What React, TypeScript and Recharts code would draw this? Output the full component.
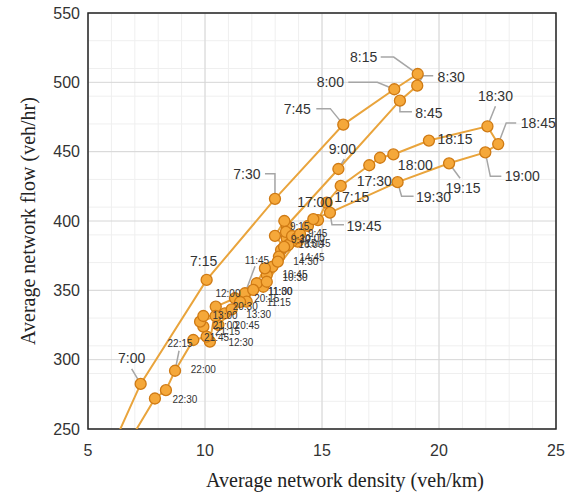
import React from 'react';
import { ScatterChart, Scatter, XAxis, YAxis, CartesianGrid, ReferenceArea } from 'recharts';

// time of day for each observation (15 min steps)
const times = [
  '6:45', '7:00', '7:15', '7:30', '7:45', '8:00', '8:15', '8:30', '8:45', '9:00',
  '9:15', '9:30', '9:45', '10:00', '10:15', '10:30', '10:45', '11:00', '11:15', '11:30',
  '11:45', '12:00', '12:15', '12:30', '12:45', '13:00', '13:15', '13:30', '13:45', '14:00',
  '14:15', '14:30', '14:45', '15:00', '15:15', '15:30', '15:45', '16:00', '16:15', '16:30',
  '16:45', '17:00', '17:15', '17:30', '17:45', '18:00', '18:15', '18:30', '18:45', '19:00',
  '19:15', '19:30', '19:45', '20:00', '20:15', '20:30', '20:45', '21:00', '21:15', '21:30',
  '21:45', '22:00', '22:15', '22:30', '22:45', '23:00',
];

// average network density (veh/km)
const density = [
  5.9, 7.25, 10.07, 12.99, 15.91, 18.09, 19.09, 19.07, 18.33, 15.7,
  13.49, 13.49, 13.96, 13.73, 13.56, 13.25, 13.16, 12.88, 12.64, 12.49,
  11.71, 11.28, 10.46, 10.21, 9.93, 9.79, 10.85, 11.14, 11.78, 12.21,
  12.56, 13.11, 13.38, 12.99, 13.39, 13.46, 13.72, 13.93, 14.06, 14.4,
  14.83, 15.2, 15.8, 17.02, 17.48, 18.05, 19.57, 22.07, 22.53, 21.98,
  20.43, 18.23, 15.34, 14.63, 12.64, 12.06, 11.5, 10.57, 10.45, 9.93,
  10.07, 9.5, 8.72, 8.33, 7.86, 6.9,
];

// average network flow (veh/hr)
const flow = [
  232, 282.5, 357.5, 416, 469.5, 495, 506, 497.6, 486.8, 437.5,
  396.6, 387.5, 385.1, 385.6, 382.7, 379.1, 374.3, 367, 361, 352.6,
  347.9, 344.3, 338.2, 313, 323.8, 327.4, 333.4, 336.3, 341.8, 355.1,
  365.9, 370.7, 381.3, 389.3, 400, 392.1, 389.2, 387.7, 390.6, 396.4,
  400.7, 413.2, 425.3, 440.2, 445.6, 448, 458, 468.3, 455.5, 449.5,
  441.6, 428, 406, 401.4, 356.2, 350.3, 341.6, 325, 331.5, 331.5,
  316.6, 314.2, 292, 278, 272, 245,
];

const xTicks = [5, 10, 15, 20, 25];
const yTicks = [250, 300, 350, 400, 450, 500, 550];
const xMinorTicks = [5, 6, 7, 8, 9, 10, 11, 12, 13, 14, 15, 16, 17, 18, 19, 20, 21, 22, 23, 24, 25];
const yMinorTicks = [
  250, 260, 270, 280, 290, 300, 310, 320, 330, 340, 350, 360, 370, 380, 390, 400,
  410, 420, 430, 440, 450, 460, 470, 480, 490, 500, 510, 520, 530, 540, 550,
];

// label placement relative to the dot (px): text centre, font size, optional leader line
type LabelPos = { dx: number; dy: number; size: number; leader?: number[][] };
const labelLayout: Record<string, LabelPos> = {
  '7:00': { dx: -9, dy: -26, size: 14, leader: [[0, 0], [-9, -15]] },
  '7:15': { dx: -3, dy: -19, size: 14 },
  '7:30': { dx: -28, dy: -25, size: 14, leader: [[0, 0], [0, -25], [-10, -25]] },
  '7:45': { dx: -46, dy: -16, size: 14, leader: [[0, 0], [-13, -16], [-27, -16]] },
  '8:00': { dx: -64, dy: -7, size: 14, leader: [[0, 0], [-17, -7], [-46, -7]] },
  '8:15': { dx: -54, dy: -17, size: 14, leader: [[0, 0], [-24, -17], [-37, -17]] },
  '8:30': { dx: 34, dy: -9, size: 14, leader: [[0, 0], [6, -10], [16, -10]] },
  '8:45': { dx: 29, dy: 12, size: 14, leader: [[0, 0], [0, 11], [12, 11]] },
  '9:00': { dx: 4, dy: -20, size: 14, leader: [[0, 0], [6, -10]] },
  '17:00': { dx: -12, dy: -1, size: 14 },
  '17:15': { dx: 11, dy: 11, size: 14 },
  '17:30': { dx: 5, dy: 16, size: 14 },
  '18:00': { dx: 22, dy: 11, size: 14 },
  '18:15': { dx: 26, dy: -2, size: 14 },
  '18:30': { dx: 8, dy: -30, size: 14, leader: [[0, 0], [8, -20]] },
  '18:45': { dx: 40, dy: -21, size: 14, leader: [[0, 0], [8, -21], [18, -21]] },
  '19:00': { dx: 37, dy: 24, size: 14, leader: [[0, 0], [5, 24], [16, 24]] },
  '19:15': { dx: 14, dy: 25, size: 14, leader: [[0, 0], [11, 15]] },
  '19:30': { dx: 36, dy: 15, size: 14, leader: [[0, 0], [4, 14], [16, 14]] },
  '19:45': { dx: 34, dy: 13, size: 14, leader: [[0, 0], [2, 12], [14, 12]] },
  '22:15': { dx: 5, dy: -27, size: 10, leader: [[0, 0], [4, -20]] },
  '22:30': { dx: 19, dy: 9, size: 10 },
  '22:00': { dx: 10, dy: 30, size: 10 },
  '11:45': { dx: 12, dy: -33, size: 10, leader: [[0, 0], [10, -27]] },
  '12:00': { dx: -7, dy: -5, size: 10 },
  '20:30': { dx: -8, dy: 17, size: 10 },
  '13:30': { dx: 27, dy: 5, size: 10 },
  '20:15': { dx: 0, dy: 17, size: 10 },
  '11:00': { dx: 8, dy: 25, size: 10 },
  '11:30': { dx: 17, dy: 5, size: 10 },
  '11:15': { dx: 12, dy: 27, size: 10 },
  '21:45': { dx: 10, dy: 1, size: 10 },
  '12:30': { dx: 31, dy: 1, size: 10 },
  '21:15': { dx: 12, dy: 16, size: 10 },
  '20:45': { dx: 7, dy: 24, size: 10 },
  '21:00': { dx: 7, dy: 0, size: 10 },
  '13:00': { dx: 25, dy: -6, size: 10 },
  '9:15': { dx: 13, dy: 1, size: 10 },
  '9:45': { dx: 20, dy: -8, size: 10 },
  '9:30': { dx: 14, dy: 1, size: 10 },
  '10:00': { dx: 20, dy: -2, size: 10 },
  '15:45': { dx: 26, dy: 8, size: 10 },
  '16:00': { dx: 14, dy: 6, size: 10 },
  '14:45': { dx: 28, dy: 11, size: 10 },
  '14:30': { dx: 28, dy: 0, size: 10 },
  '10:45': { dx: 16, dy: 18, size: 10 },
  '10:30': { dx: 14, dy: 28, size: 10 },
};

const points = times.map((t, i) => ({ t, x: density[i], y: flow[i] }));

const FONT = 'Arial, "Liberation Sans", sans-serif';
const SERIF = '"Times New Roman", "Liberation Serif", serif';

const LeaderShape = (props: any) => {
  const pos = labelLayout[props.payload?.t];
  if (!pos || !pos.leader) return <g />;
  const pts = pos.leader.map(([a, b]) => `${props.cx + a},${props.cy + b}`).join(' ');
  return <polyline points={pts} fill="none" stroke="#a6a6a6" strokeWidth={1.5} />;
};

const DotShape = (props: any) => (
  <circle cx={props.cx} cy={props.cy} r={5.5} fill="#f5a83a" stroke="#cf7a14" strokeWidth={1.3} />
);

const LabelShape = (props: any) => {
  const pos = labelLayout[props.payload?.t];
  if (!pos) return <g />;
  return (
    <text
      x={props.cx + pos.dx}
      y={props.cy + pos.dy}
      textAnchor="middle"
      dominantBaseline="central"
      fontFamily={FONT}
      fontSize={pos.size}
      fill="#333"
    >
      {props.payload.t}
    </text>
  );
};

const App: React.FC = () => {
  return (
    <div style={{ position: 'absolute', left: 0, top: 0, background: '#fff' }}>
      <ScatterChart width={576} height={494} margin={{ top: 13, right: 20, bottom: 0, left: 0 }}>
        <XAxis xAxisId="minor" type="number" dataKey="x" domain={[5, 25]} ticks={xMinorTicks} allowDataOverflow hide />
        <YAxis yAxisId="minor" type="number" dataKey="y" domain={[250, 550]} ticks={yMinorTicks} allowDataOverflow hide />
        <CartesianGrid xAxisId="minor" yAxisId="minor" stroke="#efefef" strokeWidth={1} />
        <CartesianGrid stroke="#d6d6d6" strokeWidth={1} />
        <XAxis
          type="number"
          dataKey="x"
          domain={[5, 25]}
          ticks={xTicks}
          allowDataOverflow
          axisLine={false}
          tickLine={false}
          tickMargin={10}
          height={65}
          tick={{ fontSize: 16, fill: '#333', fontFamily: FONT }}
          label={{
            content: (p: any) => (
              <text
                x={p.viewBox.x + p.viewBox.width / 2 + 23}
                y={487}
                textAnchor="middle"
                fontFamily={SERIF}
                fontSize={20}
                fill="#222"
              >
                Average network density (veh/km)
              </text>
            ),
          }}
        />
        <YAxis
          type="number"
          dataKey="y"
          domain={[250, 550]}
          ticks={yTicks}
          allowDataOverflow
          axisLine={false}
          tickLine={false}
          width={88}
          tick={{ fontSize: 16, fill: '#333', fontFamily: FONT }}
          label={{
            content: (p: any) => {
              const cy = p.viewBox.y + p.viewBox.height / 2;
              return (
                <text
                  x={35}
                  y={cy}
                  transform={`rotate(-90 35 ${cy})`}
                  textAnchor="middle"
                  fontFamily={SERIF}
                  fontSize={20}
                  fill="#222"
                >
                  Average network flow (veh/hr)
                </text>
              );
            },
          }}
        />
        <ReferenceArea x1={5} x2={25} y1={250} y2={550} fill="none" stroke="#262626" strokeWidth={1.5} />
        <Scatter
          data={points}
          line={{ stroke: '#e9a43c', strokeWidth: 2 }}
          lineType="joint"
          shape={LeaderShape}
          isAnimationActive={false}
        />
        <Scatter data={points} shape={DotShape} isAnimationActive={false} />
        <Scatter data={points} shape={LabelShape} isAnimationActive={false} />
      </ScatterChart>
    </div>
  );
};

export default App;
